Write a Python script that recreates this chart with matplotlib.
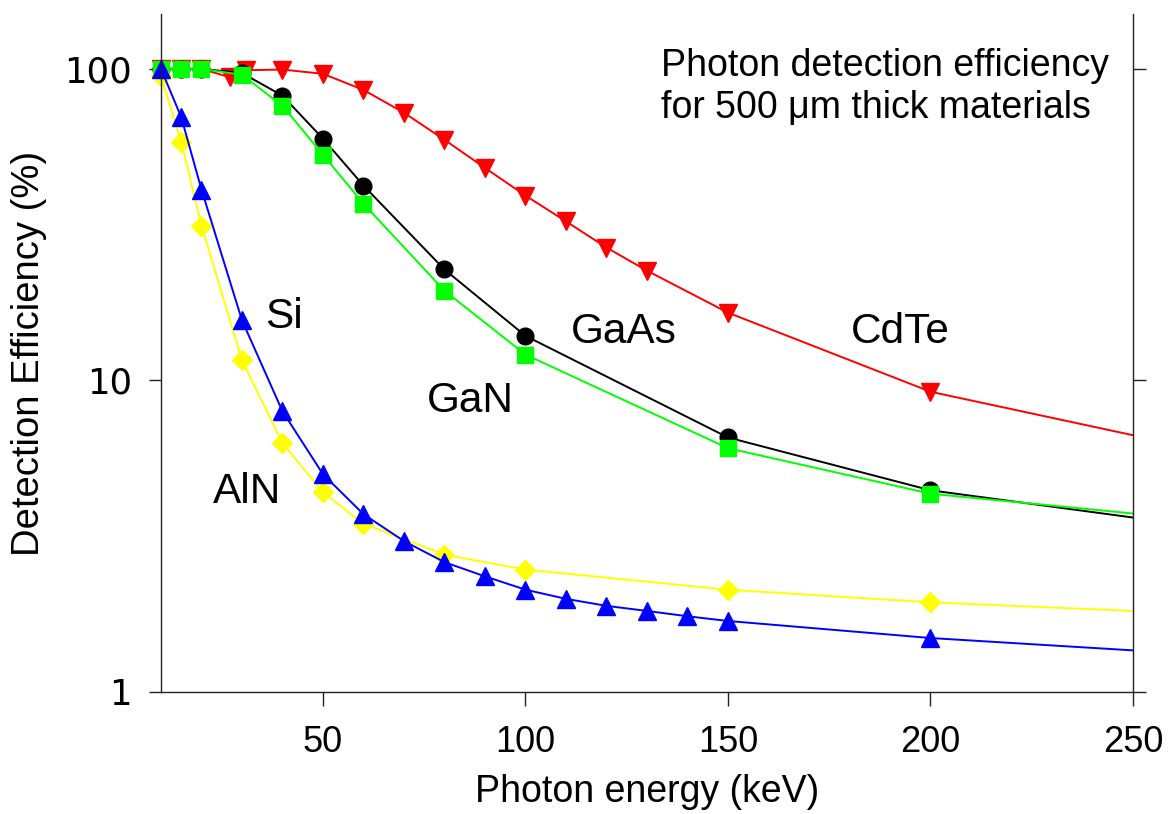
import matplotlib
matplotlib.use("Agg")
import matplotlib.pyplot as plt
from matplotlib.ticker import FixedLocator, NullLocator, FixedFormatter

# values (photon energy keV, efficiency %)
cdte_e = [10, 15, 20, 27, 31, 40, 50, 60, 70, 80, 90, 100, 110, 120, 130, 150, 200, 250]
cdte_eff = [100, 100, 100, 94, 99, 99.5, 96.4, 85.6, 72.3, 59.2, 48.1, 39.2, 32.4, 26.7, 22.5, 16.5, 9.2, 6.67]

gaas_e = [10, 15, 20, 30, 40, 50, 60, 80, 100, 150, 200, 250]
gaas_eff = [100, 100, 100, 97, 82, 59.7, 42.2, 22.7, 13.9, 6.56, 4.44, 3.63]

gan_e = [10, 15, 20, 30, 40, 50, 60, 80, 100, 150, 200, 250]
gan_eff = [100, 100, 100, 95.7, 76.1, 53, 36.9, 19.4, 12.1, 6.06, 4.33, 3.74]

aln_e = [10, 15, 20, 30, 40, 50, 60, 80, 100, 150, 200, 250]
aln_eff = [95, 58.3, 31.4, 11.6, 6.3, 4.37, 3.47, 2.76, 2.47, 2.13, 1.94, 1.82]

si_e = [10, 15, 20, 30, 40, 50, 60, 70, 80, 90, 100, 110, 120, 130, 140, 150, 200, 250]
si_eff = [100, 70, 41, 15.6, 7.96, 5.0, 3.72, 3.05, 2.61, 2.35, 2.13, 1.99, 1.89, 1.82, 1.75, 1.69, 1.49, 1.36]

x_ticks = [50, 100, 150, 200, 250]
y_ticks = [1, 10, 100]
y_tick_labels = ["1", "10", "100"]

plt.rcParams['font.family'] = ['Liberation Sans', 'DejaVu Sans']

fig = plt.figure(figsize=(11.69, 8.14), dpi=100)
ax = fig.add_axes([0.1377, 0.1499, 0.9692 - 0.1377, 0.9828 - 0.1499])

# drawing order: red, black, green, yellow, blue (blue ends up on top)
series = [
    (cdte_e, cdte_eff, '#ff0000', 'v', 12.5),
    (gaas_e, gaas_eff, '#000000', 'o', 12),
    (gan_e, gan_eff, '#00ff00', 's', 11),
    (aln_e, aln_eff, '#ffff00', 'D', 10.5),
    (si_e, si_eff, '#0000ff', '^', 12.5),
]
for xs, ys, c, m, ms in series:
    # last point only extends the line to the right edge, no marker there
    ax.plot(xs, ys, color=c, lw=1.4, marker=m, ms=ms, mec=c, mfc=c,
            markevery=list(range(len(xs) - 1)), clip_on=False)

ax.set_yscale('log')
ax.set_xlim(10, 250)
ax.set_ylim(1, 150)

ax.xaxis.set_major_locator(FixedLocator(x_ticks))
ax.yaxis.set_major_locator(FixedLocator(y_ticks))
ax.yaxis.set_major_formatter(FixedFormatter(y_tick_labels))
ax.yaxis.set_minor_locator(NullLocator())
ax.xaxis.set_minor_locator(NullLocator())

ax.spines['top'].set_visible(False)
for s in ['left', 'right', 'bottom']:
    ax.spines[s].set_linewidth(1.0)
    ax.spines[s].set_color('#222222')

ax.tick_params(axis='y', which='major', direction='out', length=9, width=1,
               right=True, labelright=False, labelsize=25.5, pad=12, color='#222222')
ax.tick_params(axis='x', which='major', direction='out', length=10, width=1,
               labelsize=26, pad=14, color='#222222')
for lab in ax.get_yticklabels():
    lab.set_family('DejaVu Sans')

ax.set_xlabel("Photon energy (keV)", fontsize=27, labelpad=10)
ax.set_ylabel("Detection Efficiency (%)", fontsize=27.5, labelpad=12)

# material labels
lab_size = 30.5
ax.text(35.6, 16.0, "Si", fontsize=lab_size, ha='left', va='center')
ax.text(22.8, 4.4, "AlN", fontsize=lab_size, ha='left', va='center')
ax.text(75.7, 8.6, "GaN", fontsize=lab_size, ha='left', va='center')
ax.text(111.1, 14.3, "GaAs", fontsize=lab_size, ha='left', va='center')
ax.text(180.4, 14.3, "CdTe", fontsize=lab_size, ha='left', va='center')

ax.text(133.4, 102.2, "Photon detection efficiency", fontsize=27, ha='left', va='center')
ax.text(133.4, 75.0, "for 500 \u03bcm thick materials", fontsize=27, ha='left', va='center')

fig.savefig("out.png", dpi=100)
